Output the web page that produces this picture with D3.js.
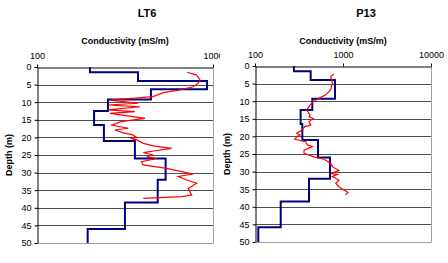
<!DOCTYPE html>
<html>
<head>
<meta charset="utf-8">
<script src="https://cdn.jsdelivr.net/npm/d3@7"></script>
<style>
  body { margin: 0; background: #fff; }
  svg { display: block; font-family: "Liberation Sans", Arial, sans-serif; }
</style>
</head>
<body>
<svg id="chart" width="448" height="263"></svg>
<script>
const depthTicks = [0, 5, 10, 15, 20, 25, 30, 35, 40, 45, 50];

// LT6 layered model (step) and measured log
const lt6LayerTop = [0, 1.5, 4, 6.3, 9.2, 12.5, 16.5, 21, 26, 32, 38.5, 46];
const lt6LayerCond = [200, 375, 925, 444, 253, 211, 240, 360, 538, 485, 316, 194];
const lt6LogDepth = [1.5, 2.3, 3.7, 4.6, 5.6, 6.5, 7.3, 8.4, 9.4, 10.3, 10.8, 11.3, 12.2, 12.7, 13.2, 14.6, 15.5, 16.5, 17.4, 17.9, 18.7, 19.3, 20.0, 20.3, 20.7, 21.7, 22.4, 23.1, 23.8, 24.3, 25.0, 25.5, 26.0, 26.9, 27.8, 28.8, 29.7, 30.4, 31.1, 32.1, 33.0, 34.5, 36.4, 36.8, 37.3];
const lt6LogCond = [714, 808, 844, 825, 773, 649, 522, 456, 260, 376, 254, 385, 254, 360, 260, 411, 300, 266, 330, 277, 310, 350, 368, 340, 368, 402, 458, 582, 470, 402, 458, 420, 479, 393, 400, 546, 664, 773, 635, 709, 808, 724, 757, 664, 402];
const lt6Ticks = [100, 1000];

// P13 layered model (step) and measured log
const p13LayerTop = [0, 1.5, 4, 9.3, 12.5, 16.5, 21, 26, 32, 38.5, 45.8];
const p13LayerCond = [277, 429, 811, 448, 330, 345, 520, 711, 411, 196, 109];
const p13LogDepth = [2.3, 3.0, 4.9, 6.8, 8.2, 9.2, 10.1, 11.1, 12.5, 13.9, 14.4, 14.9, 15.8, 16.8, 17.2, 18.2, 19.1, 19.6, 20.1, 20.8, 21.5, 22.4, 22.9, 23.9, 24.8, 25.8, 26.5, 27.6, 28.6, 29.7, 30.5, 30.8, 31.4, 32.4, 33.3, 34.3, 35.2, 35.9, 36.6];
const p13LogCond = [790, 725, 756, 725, 636, 533, 460, 422, 387, 422, 411, 460, 411, 430, 370, 340, 298, 325, 300, 283, 377, 393, 448, 361, 361, 468, 608, 725, 756, 901, 725, 861, 756, 901, 826, 901, 1026, 1140, 1070];
const p13Ticks = [100, 1000, 10000];

const svg = d3.select("#chart");

function panel(opt) {
  const g = svg.append("g");
  if (opt.clip) {
    svg.append("clipPath").attr("id", opt.id + "-clip")
      .append("rect").attr("x", 0).attr("y", 0).attr("width", opt.clip).attr("height", 263);
    g.attr("clip-path", `url(#${opt.id}-clip)`);
  }

  const x = d3.scaleLog().domain(opt.domain).range([opt.left, opt.right]);
  const y = d3.scaleLinear().domain([0, 50]).range([opt.top, opt.bottom]);

  // grid lines
  g.append("g").selectAll("line")
    .data(depthTicks.filter(d => d > 0 && d < 50))
    .join("line")
    .attr("x1", opt.left).attr("x2", opt.right)
    .attr("y1", d => Math.round(y(d)) + 0.5).attr("y2", d => Math.round(y(d)) + 0.5)
    .attr("stroke", "#505050");

  // grey frame right / bottom
  g.append("path")
    .attr("d", `M${opt.right + 0.5},${opt.top}V${Math.round(opt.bottom) + 0.5}H${opt.left}`)
    .attr("fill", "none").attr("stroke", "#a0a0a0");

  // axes
  const ax = g.append("g")
    .attr("transform", `translate(0,${opt.top + 0.5})`)
    .call(d3.axisTop(x).tickValues(opt.ticks).tickFormat(d3.format("d"))
      .tickSize(3).tickSizeOuter(0).tickPadding(6));
  const ay = g.append("g")
    .attr("transform", `translate(${opt.left + 0.5},0)`)
    .call(d3.axisLeft(y).tickValues(depthTicks).tickSize(3).tickSizeOuter(0).tickPadding(3));
  [ax, ay].forEach(a => {
    a.select(".domain").attr("stroke", "#000");
    a.selectAll(".tick text").attr("font-size", 9).attr("fill", "#000")
      .attr("font-family", "Liberation Sans, Arial, sans-serif");
  });

  // step line of the layered model
  const steps = [];
  opt.layerTop.forEach((t, i) => {
    const b = i + 1 < opt.layerTop.length ? opt.layerTop[i + 1] : 50;
    steps.push([opt.layerCond[i], t], [opt.layerCond[i], b]);
  });
  g.append("path")
    .datum(steps)
    .attr("fill", "none").attr("stroke", "#000080").attr("stroke-width", 2)
    .attr("d", d3.line().x(d => x(d[0])).y(d => y(d[1])));

  // measured log
  const log = opt.logDepth.map((d, i) => [opt.logCond[i], d]);
  g.append("path")
    .datum(log)
    .attr("fill", "none").attr("stroke", "#ff0000").attr("stroke-width", 1.2)
    .attr("d", d3.line().x(d => x(d[0])).y(d => y(d[1])));

  // titles
  g.append("text").attr("x", opt.titleX).attr("y", 17)
    .attr("text-anchor", "middle").attr("font-size", 11).attr("font-weight", "bold")
    .text(opt.title);
  g.append("text").attr("x", (opt.left + opt.right) / 2).attr("y", 43.5)
    .attr("text-anchor", "middle").attr("font-size", 9).attr("font-weight", "bold")
    .text("Conductivity (mS/m)");
  g.append("text")
    .attr("transform", `translate(${opt.left - 25},${(opt.top + opt.bottom) / 2}) rotate(-90)`)
    .attr("text-anchor", "middle").attr("font-size", 9).attr("font-weight", "bold")
    .text("Depth (m)");
}

panel({
  id: "lt6", title: "LT6", titleX: 147, domain: [100, 1000], ticks: lt6Ticks,
  left: 37, right: 213, top: 67, bottom: 243, clip: 220,
  layerTop: lt6LayerTop, layerCond: lt6LayerCond, logDepth: lt6LogDepth, logCond: lt6LogCond
});

panel({
  id: "p13", title: "P13", titleX: 366, domain: [100, 10000], ticks: p13Ticks,
  left: 255, right: 431, top: 66, bottom: 242,
  layerTop: p13LayerTop, layerCond: p13LayerCond, logDepth: p13LogDepth, logCond: p13LogCond
});
</script>
</body>
</html>
